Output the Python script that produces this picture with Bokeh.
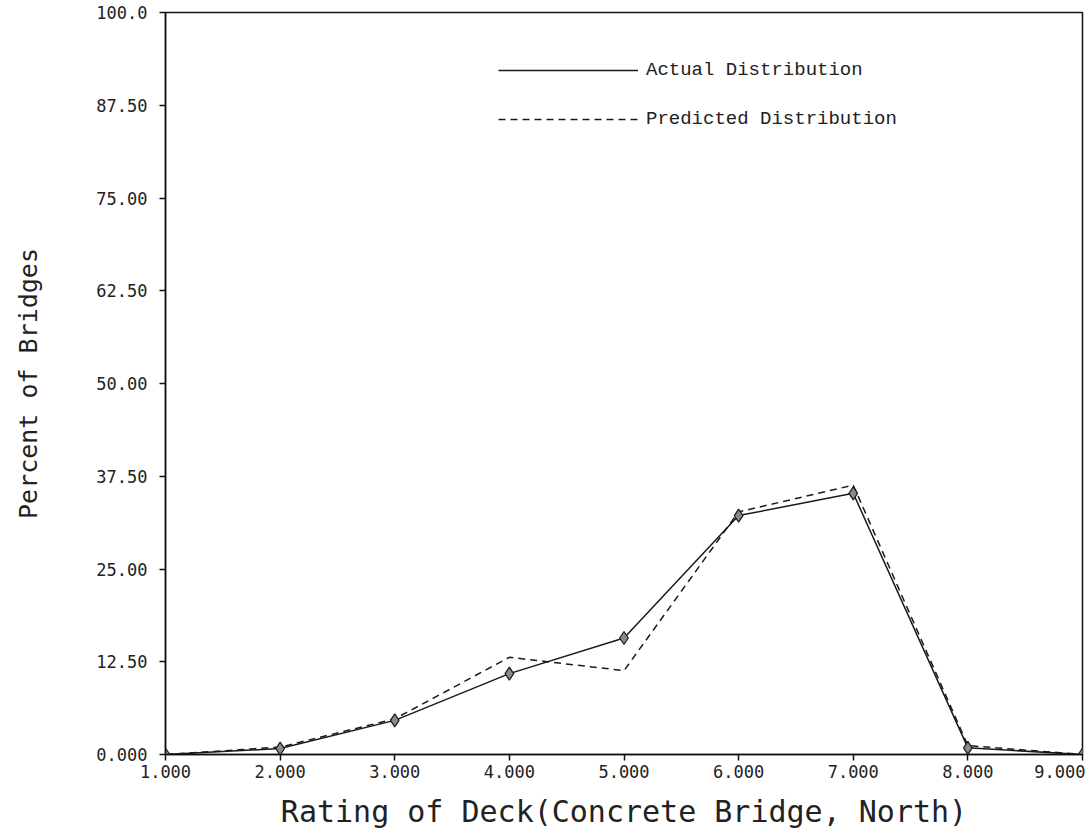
from bokeh.plotting import figure
from bokeh.models import Range1d, FixedTicker, Legend, LegendItem
from bokeh.embed import file_html
from bokeh.resources import INLINE

ratings = [1, 2, 3, 4, 5, 6, 7, 8, 9]
actual = [0.0, 0.8, 4.6, 10.9, 15.7, 32.2, 35.2, 0.9, 0.0]
predicted = [0.0, 1.0, 4.8, 13.1, 11.3, 32.7, 36.3, 1.2, 0.0]
x_ticks = [1, 2, 3, 4, 5, 6, 7, 8, 9]
x_labels = ["1.000", "2.000", "3.000", "4.000", "5.000", "6.000", "7.000", "8.000", "9.000"]
y_ticks = [0, 12.5, 25, 37.5, 50, 62.5, 75, 87.5, 100]
y_labels = ["0.000", "12.50", "25.00", "37.50", "50.00", "62.50", "75.00", "87.50", "100.0"]

p = figure(width=1085, height=832, output_backend="svg", toolbar_location=None,
           x_range=Range1d(1, 9), y_range=Range1d(0, 100),
           min_border_left=165, min_border_top=12, min_border_right=3, min_border_bottom=78)
p.background_fill_color = "white"
p.border_fill_color = "white"
p.outline_line_color = "#111111"
p.outline_line_width = 1.5
p.xgrid.visible = False
p.ygrid.visible = False

ink = "#1a1a1a"
r_pred = p.line(ratings, predicted, line_color=ink, line_width=1.5, line_dash="7 5")
r_act = p.line(ratings, actual, line_color=ink, line_width=1.5)
p.scatter(ratings, actual, marker="diamond", size=13, fill_color="#8a8a8a",
          line_color=ink, line_width=1.2)

for ax in (p.xaxis[0], p.yaxis[0]):
    ax.axis_line_color = "#111111"
    ax.axis_line_width = 1.5
    ax.major_tick_line_color = "#111111"
    ax.major_tick_line_width = 1.5
    ax.major_tick_out = 6
    ax.major_tick_in = 0
    ax.minor_tick_line_color = None
    ax.major_label_text_font = "DejaVu Sans Mono"
    ax.major_label_text_font_size = "17px"
    ax.major_label_text_font_style = "normal"
    ax.major_label_text_color = "#222222"
    ax.axis_label_text_font = "DejaVu Sans Mono"
    ax.axis_label_text_font_style = "normal"
    ax.axis_label_text_color = "#222222"

p.xaxis.ticker = FixedTicker(ticks=x_ticks)
p.xaxis.major_label_overrides = {t: l for t, l in zip(x_ticks, x_labels)}
p.yaxis.ticker = FixedTicker(ticks=y_ticks)
p.yaxis.major_label_overrides = {t: l for t, l in zip(y_ticks, y_labels)}

p.xaxis.axis_label = "Rating of Deck(Concrete Bridge, North)"
p.xaxis.axis_label_text_font_size = "30px"
p.xaxis.major_label_standoff = 4
p.xaxis.axis_label_standoff = 13

p.yaxis.axis_label = "Percent of Bridges"
p.yaxis.axis_label_text_font_size = "25px"
p.yaxis.major_label_standoff = 12
p.yaxis.axis_label_standoff = 50

legend = Legend(items=[LegendItem(label="Actual Distribution", renderers=[r_act]),
                       LegendItem(label="Predicted Distribution", renderers=[r_pred])],
                location=(333, 624), orientation="vertical")
legend.glyph_width = 140
legend.glyph_height = 20
legend.label_height = 20
legend.spacing = 27
legend.padding = 0
legend.margin = 0
legend.label_standoff = 8
legend.label_text_font = "Liberation Mono"
legend.label_text_font_size = "19px"
legend.label_text_color = "#222222"
legend.border_line_color = None
legend.background_fill_alpha = 0
p.add_layout(legend)

open("out.html", "w").write(file_html(p, INLINE))
